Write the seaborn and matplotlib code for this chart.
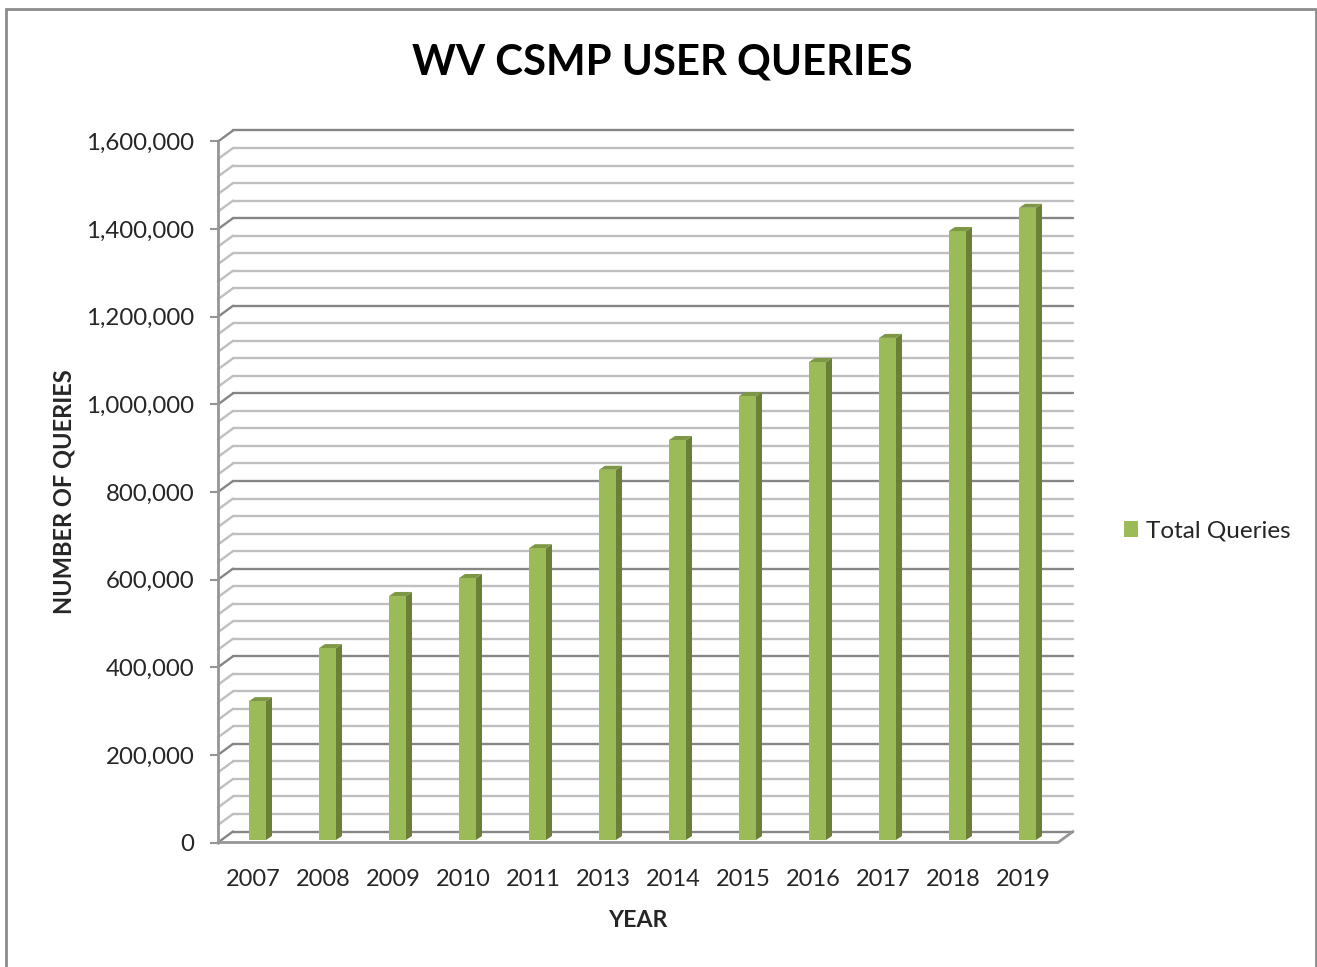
import matplotlib
matplotlib.use('Agg')
import matplotlib.pyplot as plt
from matplotlib.patches import Polygon, Rectangle
from matplotlib.transforms import Affine2D
from matplotlib.ticker import FuncFormatter
import numpy as np
import pandas as pd
import seaborn as sns

years = ['2007', '2008', '2009', '2010', '2011', '2013', '2014', '2015', '2016', '2017', '2018', '2019']
queries = [317000, 438000, 557000, 598000, 666000, 845000, 913000, 1013000, 1091000, 1146000, 1390000, 1443000]
major_ticks = [0, 200000, 400000, 600000, 800000, 1000000, 1200000, 1400000, 1600000]
minor_step = 40000

W, H = 1317, 967
GREEN = '#9bbb59'
SIDE = '#6a7f38'
TOP = '#7d9745'

sns.set_theme(style='white')
plt.rcParams['font.family'] = ['Lato', 'DejaVu Sans']

df = pd.DataFrame({'year': years, 'queries': queries})

fig = plt.figure(figsize=(W / 100, H / 100), dpi=100)
ax = fig.add_axes([218 / W, (H - 842.5) / H, 840 / W, 701 / H])
sns.barplot(data=df, x='year', y='queries', color=GREEN, saturation=1, width=0.243,
            label='Total Queries', legend=False, ax=ax, zorder=5, linewidth=0)
ax.set_ylim(0, 1600000)
ax.set_xlim(-0.5, 11.5)
for s in ['top', 'right', 'bottom', 'left']:
    ax.spines[s].set_visible(False)

# back wall grid, pushed back by the fake 3d depth
back = ax.get_yaxis_transform() + Affine2D().translate(15, 11)
for v in np.arange(0, 1600001, minor_step):
    is_major = v in major_ticks
    col = '#868686' if is_major else '#bfbfbf'
    ax.plot([0, 1], [v, v], transform=back, color=col, lw=1.7, clip_on=False, zorder=1)
    # diagonal on the side wall
    p0 = ax.get_yaxis_transform().transform((0, v))
    ax.plot([p0[0], p0[0] + 15], [p0[1], p0[1] + 11], transform=None, color=col, lw=1.7,
            clip_on=False, zorder=1)

# floor and left axis
p0 = ax.transAxes.transform((0, 0))
p1 = ax.transAxes.transform((1, 0))
p2 = ax.transAxes.transform((0, 1))
ax.plot([p0[0], p1[0], p1[0] + 15], [p0[1], p1[1], p1[1] + 11], transform=None, color='#969696', lw=2,
        clip_on=False, zorder=2)
ax.plot([p0[0], p2[0]], [p0[1], p2[1]], transform=None, color='#969696', lw=2, clip_on=False, zorder=2)

# bar faces are shifted into the floor, sides and tops added from the patches
shift = Affine2D().translate(4.5, 2.5)
for bar in list(ax.patches):
    x0, x1 = bar.get_x(), bar.get_x() + bar.get_width()
    h = bar.get_height()
    bar.set_transform(ax.transData + shift)
    a = (ax.transData + shift).transform([(x0, 0), (x1, 0), (x1, h), (x0, h)])
    side = [a[1], a[1] + (6, 4), a[2] + (6, 4), a[2]]
    top = [a[3], a[2], a[2] + (6, 4), a[3] + (6, 4)]
    ax.add_patch(Polygon(side, closed=True, transform=None, fc=SIDE, ec='none', zorder=4, clip_on=False))
    ax.add_patch(Polygon(top, closed=True, transform=None, fc=TOP, ec='none', zorder=4, clip_on=False))

ax.set_yticks(major_ticks)
ax.yaxis.set_major_formatter(FuncFormatter(lambda v, pos: f'{int(v):,}'))
ax.tick_params(axis='y', left=True, length=6, width=1.5, color='#969696', labelsize=17.3,
               labelcolor='#262626', pad=11)
ax.tick_params(axis='x', bottom=False, labelsize=17, labelcolor='#262626', pad=13)

ax.set_xlabel('YEAR', fontsize=16.7, fontweight='bold', color='#262626', labelpad=14.5)
ax.set_ylabel('NUMBER OF QUERIES', fontsize=17, fontweight='bold', color='#262626', labelpad=8)

fig.text(662 / W, (H - 62) / H, 'WV CSMP USER QUERIES', fontsize=30.2, fontweight='bold',
         color='black', ha='center', va='center')

leg = ax.legend(loc='center left', bbox_to_anchor=(1102 / W, (H - 531) / H),
                bbox_transform=fig.transFigure, frameon=False, fontsize=17.5,
                handlelength=0.6, handleheight=0.6, handletextpad=0.3, labelcolor='#262626')

# chart frame
fig.add_artist(Rectangle((6 / W, -0.05), 1310 / W, 1.05 - 9 / H, transform=fig.transFigure,
                         fill=False, ec='#8c8c8c', lw=2))

fig.savefig('out.png', dpi=100)
